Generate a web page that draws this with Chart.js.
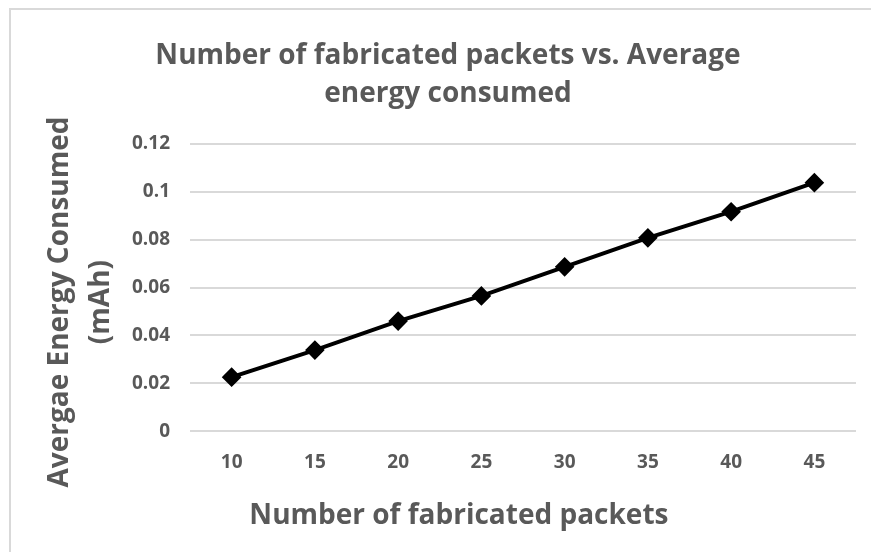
<!DOCTYPE html>
<html>
<head>
<meta charset="utf-8">
<script src="https://cdn.jsdelivr.net/npm/chart.js@4"></script>
<style>
  html, body { margin: 0; padding: 0; background: #fff; }
  #wrap { position: relative; width: 871px; height: 552px; overflow: hidden; }
  #frame { position: absolute; left: 9px; top: 8px; width: 900px; height: 600px;
           border-top: 2px solid #d9d9d9; border-left: 2px solid #d9d9d9; box-sizing: border-box; }
  canvas { position: absolute; left: 0; top: 0; }
</style>
</head>
<body>
<div id="wrap">
  <div id="frame"></div>
  <canvas id="energyChart" width="871" height="552"></canvas>
</div>
<script>
// chart data
const packetCounts = ["10", "15", "20", "25", "30", "35", "40", "45"];
const avgEnergy = [0.0226, 0.0339, 0.046, 0.0565, 0.0686, 0.0807, 0.0916, 0.1037];
const yTickValues = [0, 0.02, 0.04, 0.06, 0.08, 0.1, 0.12];
const yTickLabels = ["0", "0.02", "0.04", "0.06", "0.08", "0.1", "0.12"];

const textGray = "#595959";
const fontFamily = "'Open Sans', Lato, sans-serif";

const ctx = document.getElementById("energyChart").getContext("2d");

new Chart(ctx, {
    type: "line",
    data: {
        labels: packetCounts,
        datasets: [
            {
                label: "Average energy",
                data: avgEnergy,
                borderColor: "#000",
                backgroundColor: "#000",
                borderWidth: 4,
                pointStyle: "rectRot",
                pointRadius: 7,
                pointHoverRadius: 7,
                tension: 0
            }
        ]
    },
    options: {
        responsive: false,
        animation: false,
        layout: { padding: { left: 40, right: 15, top: 0, bottom: 0 } },
        plugins: {
            legend: { display: false },
            tooltip: { enabled: false },
            title: {
                display: true,
                text: ["Number of fabricated packets vs. Average", "energy consumed"],
                color: textGray,
                font: { family: fontFamily, size: 28, weight: "bold", lineHeight: 1.35 },
                padding: { top: 37, bottom: 31 }
            },
            subtitle: {
                display: true,
                position: "bottom",
                // leading spaces push the axis caption a bit right, as in the original
                text: "   Number of fabricated packets",
                color: textGray,
                font: { family: fontFamily, size: 28, weight: "bold", lineHeight: 1.2 },
                padding: { top: 8, bottom: 19 }
            }
        },
        scales: {
            x: {
                offset: true,
                grid: { display: false, drawTicks: false },
                border: { display: false },
                ticks: {
                    color: textGray,
                    padding: 20,
                    font: { family: fontFamily, size: 19, weight: "bold" }
                },
                afterFit: (scale) => { scale.height = 60; }
            },
            y: {
                min: 0,
                max: 0.12,
                afterBuildTicks: (scale) => {
                    scale.ticks = yTickValues.map((v) => ({ value: v }));
                },
                grid: { color: "#d9d9d9", lineWidth: 2, drawTicks: false },
                border: { display: false },
                ticks: {
                    color: textGray,
                    padding: 20,
                    font: { family: fontFamily, size: 19, weight: "bold" },
                    callback: (value, i) => yTickLabels[i]
                },
                title: {
                    display: true,
                    // trailing spaces nudge the rotated text down a little, like the original
                    text: ["Avergae Energy Consumed    ", "(mAh)    "],
                    color: textGray,
                    font: { family: fontFamily, size: 28, weight: "bold", lineHeight: 1.45 },
                    padding: { top: 0, bottom: 0 }
                },
                afterFit: (scale) => { scale.width = 150; }
            }
        }
    }
});
</script>
</body>
</html>
